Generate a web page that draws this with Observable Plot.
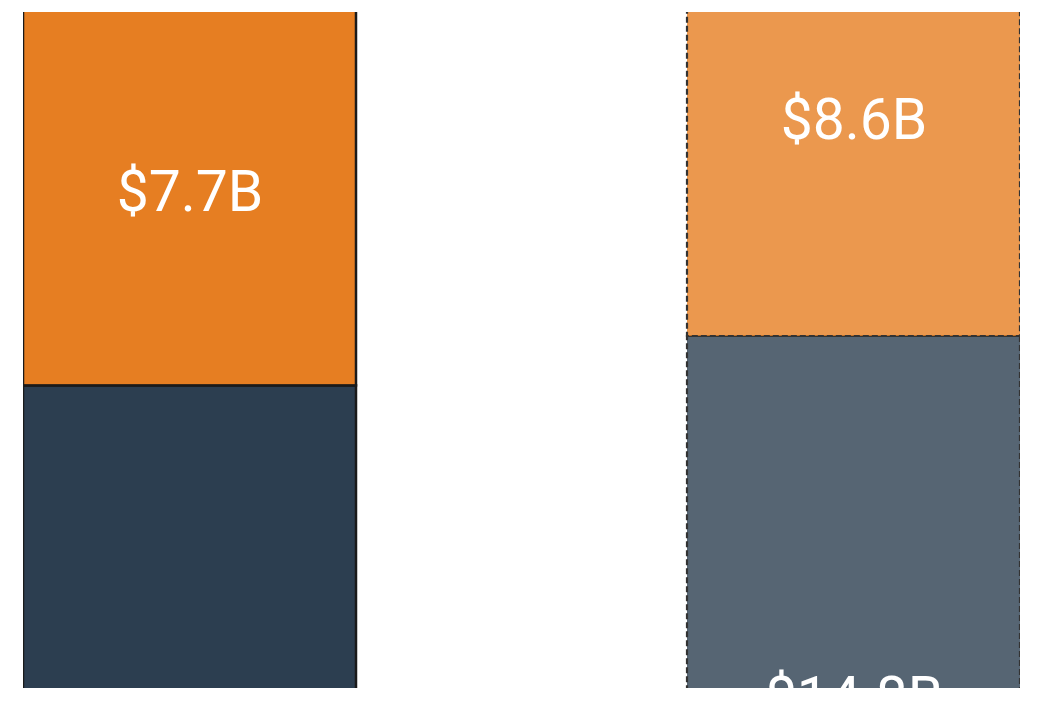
<!DOCTYPE html>
<html>
<head>
<meta charset="utf-8">
<script src="https://cdn.jsdelivr.net/npm/d3@7"></script>
<script src="https://cdn.jsdelivr.net/npm/@observablehq/plot@0.6"></script>
<style>
  html, body { margin: 0; padding: 0; background: #ffffff; }
  #chart svg { display: block; }
</style>
</head>
<body>
<div id="chart"></div>
<script>
// ---- data ----
const periods = ["Actual", "Projected"];
const segments = ["Base", "Growth"];
const baseValues = [13.8, 14.8];   // $B (bottom segment)
const growthValues = [7.7, 8.6];   // $B (top segment)
const segmentColors = ["#2C3E50", "#E67E22"];

const rows = [];
periods.forEach((p, i) => {
  rows.push({period: p, segment: segments[0], value: baseValues[i]});
  rows.push({period: p, segment: segments[1], value: growthValues[i]});
});
rows.forEach(d => d.label = `$${d.value.toFixed(1)}B`);

const actual = rows.filter(d => d.period === periods[0]);
const projected = rows.filter(d => d.period === periods[1]);

const chart = Plot.plot({
  width: 1058,
  height: 720,
  marginTop: 12,
  marginBottom: 32,
  marginLeft: 23,
  marginRight: 38,
  style: {fontFamily: "Roboto, sans-serif", background: "#ffffff"},
  x: {domain: periods, paddingInner: 0.4985, paddingOuter: 0, axis: null},
  y: {domain: [7.674, 21.359], axis: null},
  color: {domain: segments, range: segmentColors},
  marks: [
    Plot.barY(actual, Plot.stackY({
      x: "period", y: "value", fill: "segment",
      stroke: "#1a1a1a", strokeWidth: 2.5, inset: 0, clip: true
    })),
    Plot.barY(projected, Plot.stackY({
      x: "period", y: "value", fill: "segment", fillOpacity: 0.8,
      stroke: "#333333", strokeWidth: 2.2, strokeDasharray: "6,3", inset: 0, clip: true
    })),
    Plot.text(rows, Plot.stackY({
      x: "period", y: "value", text: "label",
      fill: "white", fontSize: 57, dy: -3, clip: true
    }))
  ]
});
document.getElementById("chart").appendChild(chart);
</script>
</body>
</html>
